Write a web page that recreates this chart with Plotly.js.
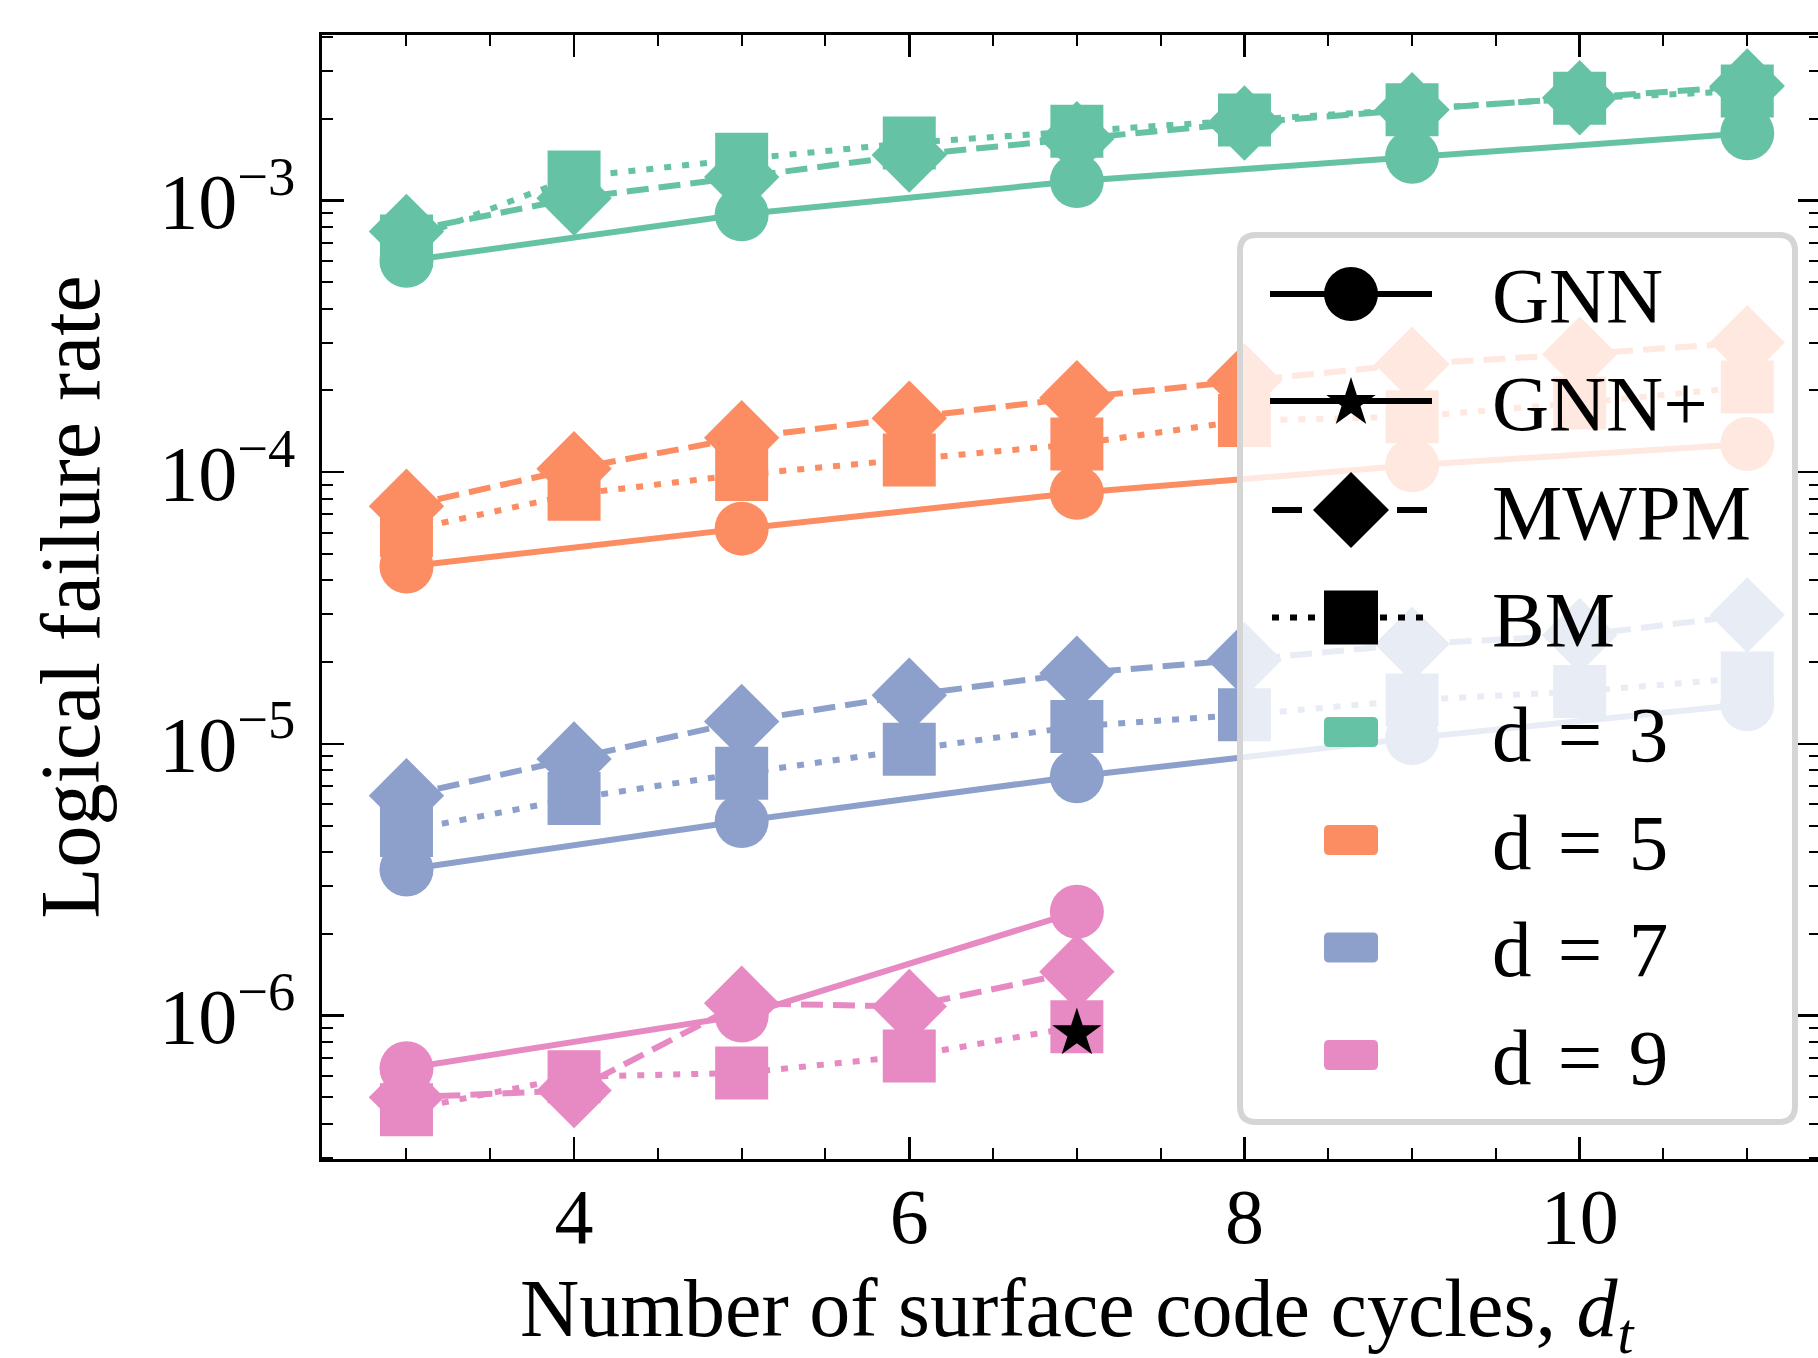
<!DOCTYPE html>
<html>
<head>
<meta charset="utf-8">
<script src="https://cdn.plot.ly/plotly-3.0.1.min.js"></script>
<style>
  html, body { margin: 0; padding: 0; overflow: hidden; background: #fff; }
  #chart { width: 1822px; height: 1358px; }
</style>
</head>
<body>
<div id="chart"></div>
<script>
// ---------------- data ----------------
const xAll = [3, 4, 5, 6, 7, 8, 9, 10, 11];
const xOdd = [3, 5, 7, 9, 11];
const xD9All = [3, 4, 5, 6, 7];
const xD9Gnn = [3, 5, 7];

const d3_gnn  = [6.0e-4, 8.9e-4, 1.18e-3, 1.45e-3, 1.77e-3];
const d3_mwpm = [7.7e-4, 1.02e-3, 1.22e-3, 1.47e-3, 1.69e-3, 1.93e-3, 2.16e-3, 2.39e-3, 2.64e-3];
const d3_bm   = [7.1e-4, 1.22e-3, 1.42e-3, 1.63e-3, 1.80e-3, 1.98e-3, 2.16e-3, 2.38e-3, 2.53e-3];

const d5_gnn  = [4.5e-5, 6.2e-5, 8.4e-5, 1.06e-4, 1.27e-4];
const d5_mwpm = [7.5e-5, 1.03e-4, 1.34e-4, 1.58e-4, 1.88e-4, 2.17e-4, 2.5e-4, 2.72e-4, 3.0e-4];
const d5_bm   = [6.1e-5, 8.3e-5, 9.8e-5, 1.11e-4, 1.27e-4, 1.55e-4, 1.6e-4, 1.8e-4, 2.06e-4];

const d7_gnn  = [3.45e-6, 5.2e-6, 7.6e-6, 1.05e-5, 1.4e-5];
const d7_mwpm = [6.45e-6, 8.8e-6, 1.21e-5, 1.51e-5, 1.82e-5, 2.04e-5, 2.33e-5, 2.51e-5, 2.98e-5];
const d7_bm   = [4.8e-6, 6.3e-6, 7.8e-6, 9.55e-6, 1.16e-5, 1.28e-5, 1.45e-5, 1.56e-5, 1.75e-5];

const d9_gnn  = [6.4e-7, 1.0e-6, 2.41e-6];
const d9_mwpm = [5.0e-7, 5.3e-7, 1.11e-6, 1.08e-6, 1.45e-6];
const d9_bm   = [4.5e-7, 5.95e-7, 6.15e-7, 7.1e-7, 9.1e-7];

const gnnPlusX = [7];
const gnnPlusY = [8.6e-7];

const distLabels = ['d\u2004=\u20043', 'd\u2004=\u20045', 'd\u2004=\u20047', 'd\u2004=\u20049'];
const methodLabels = ['GNN', 'GNN+', 'MWPM', 'BM'];
const yTickVals = [1e-6, 1e-5, 1e-4, 1e-3];
const yTickText = ['10<sup>\u22126</sup>', '10<sup>\u22125</sup>', '10<sup>\u22124</sup>', '10<sup>\u22123</sup>'];
const xTitle = 'Number of surface code cycles, <i>d</i><sub><i>t</i></sub>';
const yTitle = 'Logical failure rate';

// ---------------- style ----------------
const colors = ['#66c2a5', '#fc8d62', '#8da0cb', '#e78ac3'];
const FONT = '"Liberation Serif", "DejaVu Serif", serif';
const LW = 6;
const DASH = '22px,10px';
const DOT = '7px,11px';

const groups = [
  {x: xAll, xg: xOdd, gnn: d3_gnn, mwpm: d3_mwpm, bm: d3_bm},
  {x: xAll, xg: xOdd, gnn: d5_gnn, mwpm: d5_mwpm, bm: d5_bm},
  {x: xAll, xg: xOdd, gnn: d7_gnn, mwpm: d7_mwpm, bm: d7_bm},
  {x: xD9All, xg: xD9Gnn, gnn: d9_gnn, mwpm: d9_mwpm, bm: d9_bm}
];

const traces = [];
groups.forEach((g, i) => {
  const c = colors[i];
  traces.push({x: g.x, y: g.bm, mode: 'lines+markers', name: 'BM ' + distLabels[i],
    line: {color: c, width: LW, dash: DOT},
    marker: {symbol: 'square', size: 53, color: c, line: {width: 0}}});
  traces.push({x: g.x, y: g.mwpm, mode: 'lines+markers', name: 'MWPM ' + distLabels[i],
    line: {color: c, width: LW, dash: DASH},
    marker: {symbol: 'diamond', size: 58, color: c, line: {width: 0}}});
  traces.push({x: g.xg, y: g.gnn, mode: 'lines+markers', name: 'GNN ' + distLabels[i],
    line: {color: c, width: LW},
    marker: {symbol: 'circle', size: 54, color: c, line: {width: 0}}});
});
traces.push({x: gnnPlusX, y: gnnPlusY, mode: 'lines+markers', name: 'GNN+',
  line: {color: 'black', width: LW},
  marker: {symbol: 'star', size: 37, color: 'black', line: {width: 0}}});

// ---------------- custom legend (paper coords) ----------------
const W = 1822, H = 1358;
const PL = 322, PR = 1820, PT = 35, PB = 1159;
function X(px) { return (px - PL) / (PR - PL); }
function Y(py) { return 1 - (py - PT) / (PB - PT); }
function pathFrom(pts) {
  return pts.map(p => {
    let s = p[0];
    for (let k = 1; k < p.length; k += 2) {
      s += (k > 1 ? ' ' : '') + X(p[k]).toFixed(6) + ',' + Y(p[k + 1]).toFixed(6);
    }
    return s;
  }).join(' ') + ' Z';
}
function roundRect(x0, y0, x1, y1, r) {
  return pathFrom([
    ['M', x0 + r, y0], ['L', x1 - r, y0], ['Q', x1, y0, x1, y0 + r],
    ['L', x1, y1 - r], ['Q', x1, y1, x1 - r, y1], ['L', x0 + r, y1],
    ['Q', x0, y1, x0, y1 - r], ['L', x0, y0 + r], ['Q', x0, y0, x0 + r, y0]
  ]);
}
function starPath(cx, cy, R) {
  const rIn = R * 0.382;
  const pts = [];
  for (let k = 0; k < 10; k++) {
    const ang = -Math.PI / 2 + k * Math.PI / 5;
    const rr = (k % 2 === 0) ? R : rIn;
    pts.push([k === 0 ? 'M' : 'L', cx + rr * Math.cos(ang), cy + rr * Math.sin(ang)]);
  }
  return pathFrom(pts);
}

const rows = [294, 401, 510, 617.5, 732, 840, 947.5, 1055];
const symX = 1351, lineX0 = 1270, lineX1 = 1432, textX = 1490;
const shapes = [];
const annotations = [];

shapes.push({type: 'path', xref: 'paper', yref: 'paper', layer: 'above',
  path: roundRect(1240, 235, 1795, 1122, 16),
  fillcolor: 'rgba(255,255,255,0.8)', line: {color: '#d5d5d5', width: 6}});

function hline(x0, x1, y, dash) {
  shapes.push({type: 'line', xref: 'paper', yref: 'paper', layer: 'above',
    x0: X(x0), x1: X(x1), y0: Y(y), y1: Y(y),
    line: {color: 'black', width: LW, dash: dash || 'solid'}});
}
hline(lineX0, lineX1, rows[0]);
shapes.push({type: 'circle', xref: 'paper', yref: 'paper', layer: 'above',
  x0: X(symX - 27), x1: X(symX + 27), y0: Y(rows[0] - 27), y1: Y(rows[0] + 27),
  fillcolor: 'black', line: {width: 0}});
hline(lineX0, lineX1, rows[1]);
shapes.push({type: 'path', xref: 'paper', yref: 'paper', layer: 'above',
  path: starPath(symX, rows[1] + 2, 26), fillcolor: 'black', line: {width: 0}});
hline(1272, 1302, rows[2]);
hline(1397, 1427, rows[2]);
shapes.push({type: 'path', xref: 'paper', yref: 'paper', layer: 'above',
  path: pathFrom([['M', symX - 38, rows[2]], ['L', symX, rows[2] - 38], ['L', symX + 38, rows[2]], ['L', symX, rows[2] + 38]]),
  fillcolor: 'black', line: {width: 0}});
hline(1272, 1432, rows[3], DOT);
shapes.push({type: 'rect', xref: 'paper', yref: 'paper', layer: 'above',
  x0: X(symX - 27), x1: X(symX + 27), y0: Y(rows[3] - 27), y1: Y(rows[3] + 27),
  fillcolor: 'black', line: {width: 0}});
colors.forEach((c, i) => {
  const cy = rows[4 + i];
  shapes.push({type: 'path', xref: 'paper', yref: 'paper', layer: 'above',
    path: roundRect(symX - 27, cy - 15, symX + 27, cy + 15, 5),
    fillcolor: c, line: {width: 0}});
});

const legendTexts = methodLabels.concat(distLabels);
legendTexts.forEach((t, i) => {
  annotations.push({xref: 'paper', yref: 'paper', x: X(textX), y: Y(rows[i] + 2),
    xanchor: 'left', yanchor: 'middle', showarrow: false, text: t,
    font: {family: FONT, size: 79, color: 'black'}});
});

// x-axis title as free text so it can sit right at the bottom edge like the reference
annotations.push({xref: 'paper', yref: 'paper', x: X(1077), y: Y(1367),
  xanchor: 'center', yanchor: 'bottom', showarrow: false, text: xTitle,
  font: {family: FONT, size: 82, color: 'black'}});

const yMinor = [];
for (let e = -7; e <= -2; e++) {
  for (let m = 2; m <= 9; m++) yMinor.push(m * Math.pow(10, e));
}

const axisCommon = {
  showline: true, linecolor: 'black', linewidth: 3, mirror: 'allticks',
  ticks: 'inside', ticklen: 22, tickwidth: 2.5, tickcolor: 'black',
  showgrid: false, zeroline: false,
  tickfont: {family: FONT, size: 78, color: 'black'}
};

const layout = {
  width: W, height: H,
  margin: {l: PL, r: W - PR, t: PT, b: H - PB},
  paper_bgcolor: 'white', plot_bgcolor: 'white',
  showlegend: false,
  font: {family: FONT, color: 'black'},
  xaxis: Object.assign({}, axisCommon, {
    range: [2.496, 11.434], dtick: 2, tick0: 0,
    minor: {ticks: 'inside', ticklen: 11, tickwidth: 2, tickcolor: 'black', dtick: 0.5, showgrid: false},
    ticklabelstandoff: -13
  }),
  yaxis: Object.assign({}, axisCommon, {
    type: 'log', range: [-6.528, -2.3905],
    tickmode: 'array', tickvals: yTickVals, ticktext: yTickText,
    minor: {ticks: 'inside', ticklen: 11, tickwidth: 2, tickcolor: 'black', tickmode: 'array', tickvals: yMinor, showgrid: false},
    ticklabelstandoff: 8,
    title: {text: yTitle, font: {family: FONT, size: 84, color: 'black'}, standoff: 32}
  }),
  shapes: shapes,
  annotations: annotations
};

Plotly.newPlot('chart', traces, layout, {displayModeBar: false, staticPlot: true});
</script>
</body>
</html>
